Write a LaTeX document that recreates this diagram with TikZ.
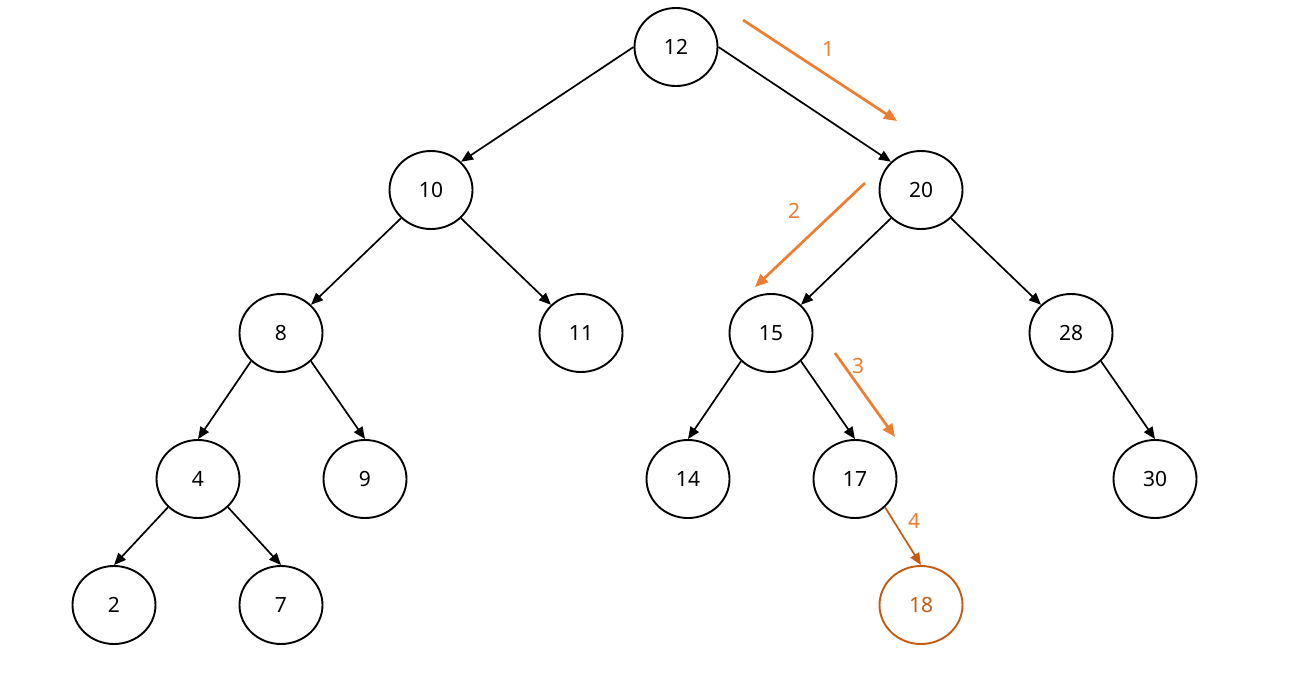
\documentclass[tikz,border=0pt]{standalone}
\usepackage{fontspec}
\setmainfont{Noto Sans}
\usepackage{tikz}
\usetikzlibrary{arrows.meta, shapes, positioning}
\definecolor{steporange}{RGB}{237, 125, 49}
\definecolor{newdark}{RGB}{197, 90, 17}

\begin{document}
\begin{tikzpicture}[
    x=1pt, y=-1pt,
    keynode/.style={ellipse, draw, line width=1.9pt, minimum width=83pt, minimum height=78pt, inner sep=0pt, font=\fontsize{21}{24}\selectfont},
    newnode/.style={keynode, draw=newdark, text=newdark},
    link/.style={-{Triangle[length=12pt, width=10pt]}, line width=1.7pt},
    trace/.style={-{Triangle[length=13pt, width=11pt]}, line width=2.7pt, steporange},
    tracelabel/.style={text=steporange, font=\fontsize{21}{24}\selectfont}
]
    \useasboundingbox (0,0) rectangle (1295,699);

    % tree nodes
    \node[keynode] (n12) at (676,47) {12};
    \node[keynode] (n10) at (431,190) {10};
    \node[keynode] (n20) at (921,190) {20};
    \node[keynode] (n8) at (281,333) {8};
    \node[keynode] (n11) at (581,333) {11};
    \node[keynode] (n15) at (771,333) {15};
    \node[keynode] (n28) at (1071,333) {28};
    \node[keynode] (n4) at (198,479) {4};
    \node[keynode] (n9) at (365,479) {9};
    \node[keynode] (n14) at (688,479) {14};
    \node[keynode] (n17) at (855,479) {17};
    \node[keynode] (n30) at (1155,479) {30};
    \node[keynode] (n2) at (114,605) {2};
    \node[keynode] (n7) at (281,605) {7};
    \node[newnode] (n18) at (921,605) {18};

    \draw[link] (n12.west) -- (n10.north east);
    \draw[link] (n12.east) -- (n20.north west);
    \draw[link] (n10.south west) -- (n8.north east);
    \draw[link] (n10.south east) -- (n11.north west);
    \draw[link] (n20.south west) -- (n15.north east);
    \draw[link] (n20.south east) -- (n28.north west);
    \draw[link] (n8.south west) -- (n4.north);
    \draw[link] (n8.south east) -- (n9.north);
    \draw[link] (n15.south west) -- (n14.north);
    \draw[link] (n15.south east) -- (n17.north);
    \draw[link] (n28.south east) -- (n30.north);
    \draw[link] (n4.south west) -- (n2.north);
    \draw[link] (n4.south east) -- (n7.north);
    \draw[link, newdark] (n17.south east) -- (n18.north);

    % search path
    \coordinate (s1a) at (743,20);
    \coordinate (s1b) at (897,121);
    \coordinate (s2a) at (865,183);
    \coordinate (s2b) at (755,287);
    \coordinate (s3a) at (835,353);
    \coordinate (s3b) at (895,437);
    \draw[trace] (s1a) -- (s1b);
    \draw[trace] (s2a) -- (s2b);
    \draw[trace] (s3a) -- (s3b);
    \node[tracelabel] (l1) at (828,49) {1};
    \node[tracelabel] (l2) at (794,211) {2};
    \node[tracelabel] (l3) at (858,366) {3};
    \node[tracelabel] (l4) at (914,521) {4};
\end{tikzpicture}
\end{document}
